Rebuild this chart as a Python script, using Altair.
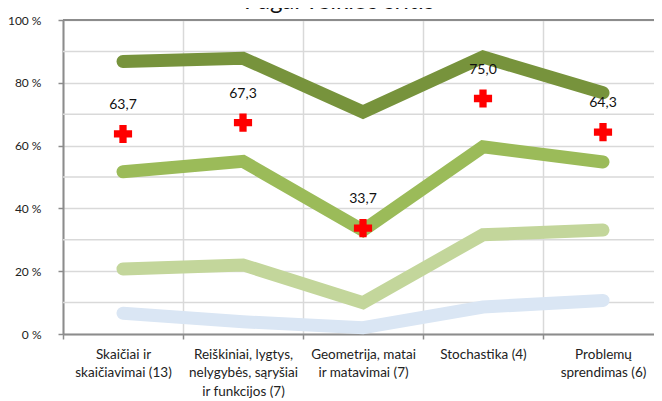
import altair as alt
import pandas as pd

categories = [
    "Skaičiai ir|skaičiavimai (13)",
    "Reiškiniai, lygtys,|nelygybės, sąryšiai|ir funkcijos (7)",
    "Geometrija, matai|ir matavimai (7)",
    "Stochastika (4)",
    "Problemų|sprendimas (6)",
]
series_names = ["Aukštesnysis", "Pagrindinis", "Patenkinamas", "Nepasiektas"]
series_colors = ["#77933C", "#9BBB59", "#C3D69B", "#DAE6F4"]
s_high = [86.8, 87.8, 70.7, 88.2, 76.8]
s_basic = [51.7, 55.0, 33.0, 59.6, 54.8]
s_sat = [20.7, 22.0, 10.0, 31.6, 33.1]
s_low = [6.6, 3.9, 2.0, 8.6, 10.7]
average = [63.7, 67.3, 33.7, 75.0, 64.3]
y_ticks = [0, 20, 40, 60, 80, 100]
minor_grid = [10, 30, 50, 70, 90]
top_border = [100]
title_text = "Pagal veiklos sritis"

rows = []
for name, vals in zip(series_names, [s_high, s_basic, s_sat, s_low]):
    for c, v in zip(categories, vals):
        rows.append({"cat": c, "series": name, "value": v})
df_lines = pd.DataFrame(rows)
df_avg = pd.DataFrame({
    "cat": categories,
    "value": average,
    "label": [f"{v:.1f}".replace(".", ",") for v in average],
})
df_grid = pd.DataFrame({"g": minor_grid})
df_top = pd.DataFrame({"g": top_border})
df_title = pd.DataFrame({"t": [title_text]})

FONT = "Lato"
AXC = "#8C8C8C"
xscale = alt.Scale(domain=categories, type="band", paddingInner=0, paddingOuter=0)
yscale = alt.Scale(domain=[0, 100], nice=False)

x_enc = alt.X(
    "cat:N", scale=xscale, sort=categories, bandPosition=0.5,
    axis=alt.Axis(
        title=None, labelAngle=0, tickBand="extent", grid=True,
        gridColor="#D9D9D9", gridWidth=1.5,
        domainColor=AXC, domainWidth=2, tickColor=AXC, tickWidth=1.5,
        tickSize=5, labelPadding=8, labelFont=FONT, labelFontSize=13.5,
        labelColor="#222222", labelExpr="split(datum.label, '|')",
        labelLineHeight=18.5, labelOverlap=False, labelBound=False, labelLimit=300,
        labelBaseline="top",
    ),
)
y_axis = alt.Axis(
    title=None, values=y_ticks, grid=True, gridColor="#D9D9D9", gridWidth=1.5,
    domainColor=AXC, domainWidth=2, tickColor=AXC, tickWidth=1.5,
    tickSize=5, labelPadding=17, labelFont=FONT, labelFontSize=12,
    labelColor="#222222", labelExpr="datum.value + ' %'",
)

grid = alt.Chart(df_grid).mark_rule(color="#D9D9D9", strokeWidth=1.5).encode(
    y=alt.Y("g:Q", scale=yscale, axis=y_axis)
)
top = alt.Chart(df_top).mark_rule(color=AXC, strokeWidth=2).encode(
    y=alt.Y("g:Q", scale=yscale)
)

lines = alt.Chart(df_lines).mark_line(
    strokeWidth=13, strokeCap="round", strokeJoin="miter"
).encode(
    x=x_enc,
    y=alt.Y("value:Q", scale=yscale),
    color=alt.Color("series:N", scale=alt.Scale(domain=series_names, range=series_colors), legend=None),
    detail="series:N",
)

pts = alt.Chart(df_avg).mark_point(
    shape="cross", filled=True, size=330, color="#FF0000", opacity=1
).encode(
    x=alt.X("cat:N", scale=xscale, sort=categories, bandPosition=0.5),
    y=alt.Y("value:Q", scale=yscale),
)

labels = alt.Chart(df_avg).mark_text(
    font=FONT, fontSize=14, color="#111111", dy=-25, baseline="alphabetic"
).encode(
    x=alt.X("cat:N", scale=xscale, sort=categories, bandPosition=0.5),
    y=alt.Y("value:Q", scale=yscale),
    text="label:N",
)

title = alt.Chart(df_title).mark_text(
    font=FONT, fontSize=24, color="#111111", align="center", baseline="alphabetic"
).encode(
    x=alt.value(276), y=alt.value(-11), text="t:N"
)

chart = alt.layer(grid, top, lines, pts, labels, title).properties(
    width=600, height=314,
    padding={"left": 55, "top": 12, "right": -9, "bottom": 68},
    autosize=alt.AutoSizeParams(type="none"),
).configure_view(stroke=None).configure(background="white")

chart.save("out.html", embed_options={"renderer": "svg", "actions": False})
